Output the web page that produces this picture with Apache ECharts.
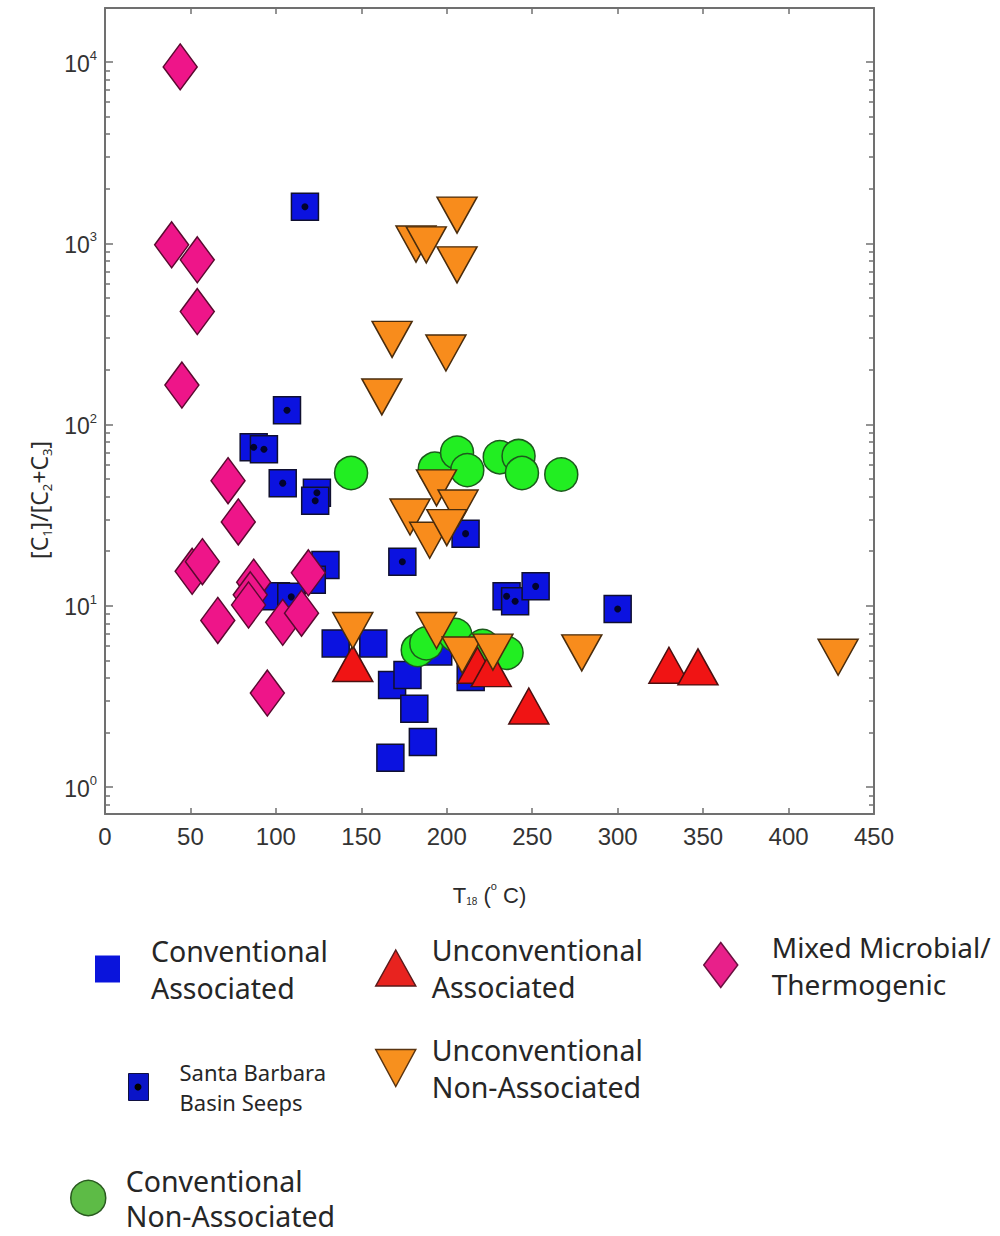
<!DOCTYPE html>
<html><head><meta charset="utf-8">
<script src="https://cdn.jsdelivr.net/npm/echarts@6/dist/echarts.min.js"></script>
<style>html,body{margin:0;padding:0;background:#fff}#c{width:1000px;height:1236px}</style>
</head><body><div id="c"></div>
<script>
// ---- data (T18 in °C, ratio C1/(C2+C3)) ----
const convAssoc = [[129,16.8],[121,13.9],[100,11.3],[135,6.2],[157,6.2],[168,3.65],[177,4.15],[181,2.7],[186,1.77],[167,1.45],[214,4.05],[195,5.6]];
const santaBarbara = [[117,1590],[106.5,120],[87,75],[93,73],[104,47.5],[124,42],[123,38],[174,17.5],[211,25],[235,11.3],[240,10.6],[252,12.8],[300,9.6],[109,11.2]];
const convNonAssoc = [[144,54],[193,57],[206,70],[212,56],[231,66],[242,67],[244,54],[267,53],[183,5.7],[188,6.2],[205,6.9],[221,6.0],[235,5.5]];
const unconvAssoc = [[145,4.8],[218,4.7],[226,4.5],[248,2.8],[330,4.7],[347,4.6]];
const unconvNonAssoc = [[206,1430],[182,990],[188,980],[206,760],[168,295],[199.5,248],[162,142],[194,44.7],[206.6,34.6],[178.5,30.9],[190,23],[200,27],[145,7.3],[194,7.3],[209,5.35],[227,5.55],[279,5.5],[429,5.2]];
const mixedMT = [[44,9400],[39,980],[54,810],[54,420],[45,165],[72,49],[78,29],[51,15.5],[57,17.5],[87,13.5],[85,11.5],[84,10.1],[119,15.2],[66,8.3],[104,8.1],[115,9.1],[95,3.3]];

const xTickLabels = [0,50,100,150,200,250,300,350,400,450];
const yMajorTicks = [1,10,100,1000,10000];
const yMinorTicks = [0.8,0.9,2,3,4,5,6,7,8,9,20,30,40,50,60,70,80,90,200,300,400,500,600,700,800,900,2000,3000,4000,5000,6000,7000,8000,9000];

const names = {
  ca: 'Conventional\nAssociated',
  sb: 'Santa Barbara\nBasin Seeps',
  cna: 'Conventional\nNon-Associated',
  ua: 'Unconventional\nAssociated',
  una: 'Unconventional\nNon-Associated',
  mmt: 'Mixed Microbial/\nThermogenic'
};

const AX = '#707070';
const yMin = 0.71, yMax = 19860;

function yAxisBase(pos, major, showLine) {
  return {
    type: 'log', logBase: 10, min: yMin, max: yMax, position: pos, gridIndex: 0,
    axisLine: {show: showLine, lineStyle: {color: AX, width: 2}},
    axisTick: {show: true, inside: true, length: major ? 8 : 5, customValues: major ? yMajorTicks : yMinorTicks, lineStyle: {color: AX, width: 1.5}},
    axisLabel: {show: false},
    splitLine: {show: false}, minorTick: {show: false}, minorSplitLine: {show: false}
  };
}

const yMain = yAxisBase('left', true, true);
yMain.axisLabel = {
  show: true, customValues: yMajorTicks, margin: 8,
  formatter: v => '{b|10}{s|' + Math.round(Math.log10(v)) + '}',
  rich: {
    b: {fontSize: 23, color: '#333', fontFamily: 'Liberation Sans', lineHeight: 26, verticalAlign: 'bottom'},
    s: {fontSize: 13, color: '#333', fontFamily: 'Liberation Sans', verticalAlign: 'top', lineHeight: 26}
  }
};
yMain.name = '[C{sub|1}]/[C{sub|2}+C{sub|3}]';
yMain.nameLocation = 'middle';
yMain.nameGap = 50;
yMain.nameTextStyle = {
  fontSize: 23, color: '#2a2a2a', fontFamily: 'Noto Sans', padding: [0, 178, 0, 0],
  rich: {sub: {fontSize: 13, color: '#2a2a2a', fontFamily: 'Noto Sans', verticalAlign: 'bottom', lineHeight: 28}}
};

function xAxisBase(pos, labels) {
  return {
    type: 'value', min: 0, max: 450, interval: 50, position: pos, gridIndex: 0,
    axisLine: {show: true, onZero: false, lineStyle: {color: AX, width: 2}},
    axisTick: {show: true, inside: true, length: 6, lineStyle: {color: AX, width: 1.5}},
    axisLabel: labels ? {show: true, customValues: xTickLabels, fontSize: 24, color: '#333', fontFamily: 'Liberation Sans', margin: 10} : {show: false},
    splitLine: {show: false}
  };
}
const xMain = xAxisBase('bottom', true);
xMain.name = '{n|T}{sub|18}{n| (}{sup|o}{n| C)}';
xMain.nameLocation = 'middle';
xMain.nameGap = 66;
xMain.nameTextStyle = {
  rich: {
    n: {fontSize: 22, color: '#2a2a2a', fontFamily: 'Liberation Sans', lineHeight: 26, verticalAlign: 'bottom'},
    sub: {fontSize: 10, color: '#2a2a2a', fontFamily: 'Liberation Sans', lineHeight: 26, verticalAlign: 'bottom'},
    sup: {fontSize: 11, color: '#2a2a2a', fontFamily: 'Liberation Sans', lineHeight: 26, verticalAlign: 'top'}
  }
};

function scatter(name, data, symbol, size, color, border, extra) {
  return Object.assign({
    type: 'scatter', name: name, data: data, symbol: symbol, symbolSize: size,
    xAxisIndex: 0, yAxisIndex: 0,
    itemStyle: {color: color, borderColor: border, borderWidth: 1.5, opacity: 1},
    emphasis: {disabled: true}
  }, extra || {});
}

const series = [
  scatter(names.ca, convAssoc, 'rect', 27, '#0b12e0', '#101030'),
  scatter(names.sb, santaBarbara, 'rect', 27, '#0b12e0', '#101030'),
  {type: 'scatter', name: 'sbDots', data: santaBarbara, symbol: 'circle', symbolSize: 7, silent: true,
   itemStyle: {color: '#000', borderWidth: 0}, emphasis: {disabled: true}},
  scatter(names.cna, convNonAssoc, 'circle', 33, '#22ee22', '#1c5a1c'),
  scatter(names.ua, unconvAssoc, 'triangle', [40, 36], '#f01414', '#4a1010'),
  scatter(names.una, unconvNonAssoc, 'triangle', [40, 36], '#f88c1c', '#4a2c0c', {symbolRotate: 180}),
  scatter(names.mmt, mixedMT, 'diamond', [34, 46], '#ee1589', '#5a0a30')
];

function legend(item, left, top, w, h, pad, fs, lh) {
  return {
    show: true, data: [item], left: left, top: top, padding: 0, orient: 'vertical',
    itemWidth: w, itemHeight: h, selectedMode: false,
    textStyle: {fontSize: fs, lineHeight: lh, color: '#262626', fontFamily: 'Noto Sans', padding: [0, 0, 0, pad]}
  };
}

const option = {
  animation: false,
  backgroundColor: '#fff',
  grid: {left: 105, right: 126, top: 8, bottom: 422, containLabel: false},
  xAxis: [xMain, xAxisBase('top', false)],
  yAxis: [yMain, yAxisBase('left', false, false), yAxisBase('right', true, true), yAxisBase('right', false, false)],
  legend: [
    legend({name: names.ca, itemStyle: {color: '#0a14dc', borderWidth: 0}}, 95, 932, 25, 27, 26, 28.5, 37),
    legend({name: names.ua, itemStyle: {color: '#e8231f', borderColor: '#5a1a1a', borderWidth: 1.5}}, 375, 931, 40, 36, 11, 28.5, 37),
    legend({name: names.mmt, itemStyle: {color: '#e8208a', borderColor: '#6a1040', borderWidth: 1.5}}, 703, 928, 34, 45, 29, 28, 37),
    legend({name: names.sb, itemStyle: {color: '#0a14c8', borderColor: '#101040', borderWidth: 1}}, 128, 1057, 20, 27, 26, 22, 30),
    legend({name: names.una, icon: 'path://M0,0 L40,0 L20,37 Z', itemStyle: {color: '#f7901e', borderColor: '#5a3410', borderWidth: 1.5}}, 375, 1031, 40, 37, 11, 28.5, 37),
    legend({name: names.cna, itemStyle: {color: '#5dbb46', borderColor: '#2a5a20', borderWidth: 1.5}}, 70, 1163, 35, 38, 15, 28.5, 35)
  ],
  graphic: [
    {type: 'circle', shape: {cx: 138, cy: 1087, r: 3.5}, style: {fill: '#000'}, z: 100}
  ],
  series: series
};

const chart = echarts.init(document.getElementById('c'), null, {renderer: 'svg', width: 1000, height: 1236});
chart.setOption(option);
</script>
</body></html>
